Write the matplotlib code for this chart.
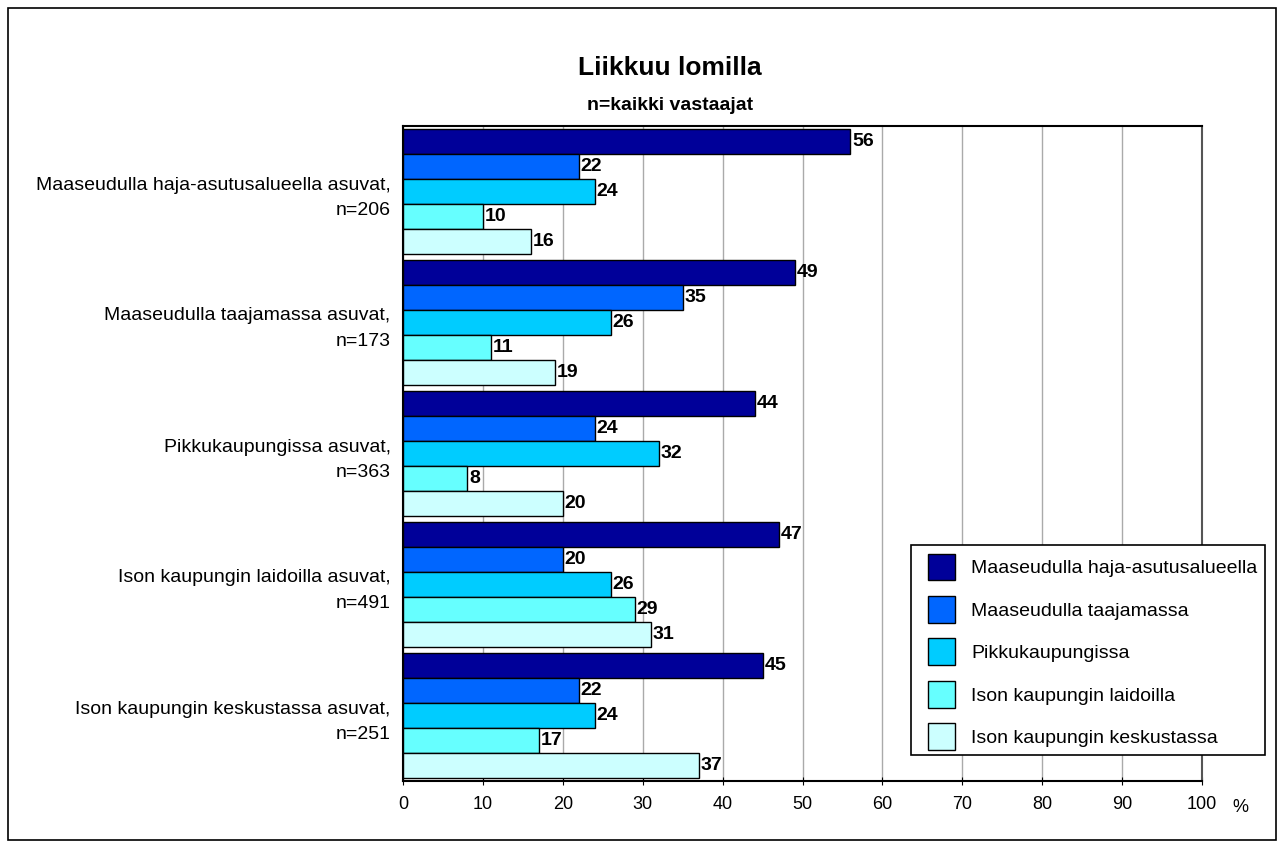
import numpy as np
import matplotlib
matplotlib.use("Agg")
import matplotlib.pyplot as plt
from matplotlib.patches import Rectangle

plt.rcParams["font.family"] = ["Liberation Sans", "DejaVu Sans"]

groups = [
    "Maaseudulla haja-asutusalueella asuvat,\nn=206",
    "Maaseudulla taajamassa asuvat,\nn=173",
    "Pikkukaupungissa asuvat,\nn=363",
    "Ison kaupungin laidoilla asuvat,\nn=491",
    "Ison kaupungin keskustassa asuvat,\nn=251",
]
series = [
    "Maaseudulla haja-asutusalueella",
    "Maaseudulla taajamassa",
    "Pikkukaupungissa",
    "Ison kaupungin laidoilla",
    "Ison kaupungin keskustassa",
]
values = [
    [56, 49, 44, 47, 45],
    [22, 35, 24, 20, 22],
    [24, 26, 32, 26, 24],
    [10, 11, 8, 29, 17],
    [16, 19, 20, 31, 37],
]
colors = ["#000099", "#0066FF", "#00CCFF", "#66FFFF", "#CCFFFF"]

W, H = 1284, 848
fig = plt.figure(figsize=(W / 100, H / 100), dpi=100)
# outer frame
fig.patches.append(Rectangle((8 / W, 8 / H), 1268 / W, 832 / H,
                             transform=fig.transFigure, fill=False,
                             edgecolor="black", linewidth=1.2))

ax = fig.add_axes([403 / W, 1 - 781 / H, 799 / W, 655 / H])

n_groups = len(groups)
bar_h = 0.19
y_centers = np.arange(n_groups)
for i, (name, vals, col) in enumerate(zip(series, values, colors)):
    ys = y_centers + (i - 2) * bar_h
    ax.barh(ys, vals, height=bar_h, color=col, edgecolor="black",
            linewidth=1.0, label=name, zorder=3)
    for y, v in zip(ys, vals):
        ax.text(v + 0.25, y, str(v), va="center", ha="left",
                fontsize=14, fontweight="bold", zorder=4)

ax.set_xlim(0, 100)
ax.set_ylim(n_groups - 0.5, -0.5)
ax.set_xticks(np.arange(0, 101, 10))
ax.tick_params(axis="x", direction="inout", length=6, labelsize=13, pad=8)
ax.set_yticks(y_centers)
ax.set_yticklabels(groups, fontsize=14, ha="right", linespacing=1.65)
ax.tick_params(axis="y", length=0, pad=9)
ax.grid(axis="x", color="#AAAAAA", linewidth=1.0, zorder=0)
for s in ["top", "left", "bottom"]:
    ax.spines[s].set_color("black")
    ax.spines[s].set_linewidth(1.5)
ax.spines["right"].set_color("#555555")
ax.spines["right"].set_linewidth(1.5)

fig.text(1240 / W, 1 - 807 / H, "%", ha="center", va="center", fontsize=13)
fig.text(670 / W, 1 - 68 / H, "Liikkuu lomilla", ha="center", va="center",
         fontsize=19, fontweight="bold")
fig.text(670 / W, 1 - 105 / H, "n=kaikki vastaajat", ha="center", va="center",
         fontsize=14, fontweight="bold")

# legend box drawn separately so its frame matches the original size
fig.patches.append(Rectangle((911 / W, 1 - 755 / H), 354 / W, 210 / H,
                             transform=fig.transFigure, facecolor="white",
                             edgecolor="black", linewidth=1.2, zorder=5))
leg = fig.legend(loc="upper left", bbox_to_anchor=(911 / W, 1 - 537 / H),
                 fontsize=14, frameon=False,
                 handlelength=1.4, handleheight=1.75, labelspacing=0.8,
                 borderpad=0.85, handletextpad=0.85, borderaxespad=0)
leg.set_zorder(6)

fig.savefig("out.png", dpi=100)
